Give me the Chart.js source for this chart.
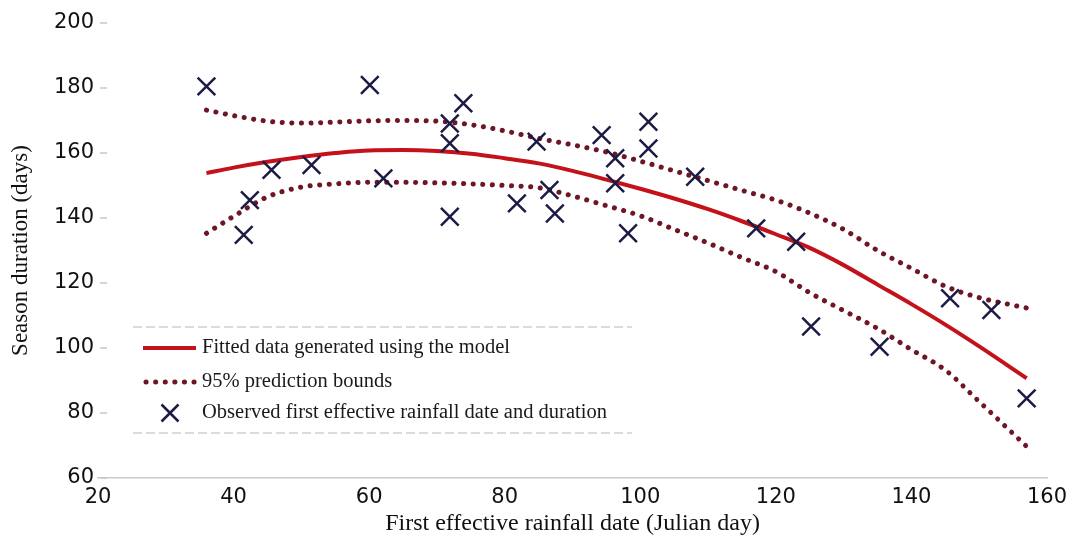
<!DOCTYPE html>
<html>
<head>
<meta charset="utf-8">
<script src="https://cdn.jsdelivr.net/npm/chart.js@4"></script>
<style>
  html, body { margin: 0; padding: 0; background: #ffffff; }
  #wrap { width: 1075px; height: 538px; position: relative; }
</style>
</head>
<body>
<div id="wrap"><canvas id="c"></canvas></div>
<script>
// Observed first effective rainfall date (Julian day) and season duration (days)
const obsX = [36, 41.5, 42.4, 45.6, 51.5, 60.1, 62.1, 71.9, 71.9, 71.9, 73.9, 81.8, 84.7, 86.6, 87.4,
              94.3, 96.3, 96.3, 98.2, 101.2, 101.2, 108.1, 117.1, 123.0, 125.2, 135.3, 145.7, 151.8, 157.0];
const obsY = [180.5, 134.8, 145.5, 154.8, 156.3, 180.9, 152.2, 169.1, 163.0, 140.4, 175.3, 144.5, 163.5, 148.6, 141.4,
              165.5, 158.4, 150.7, 135.3, 169.6, 161.4, 152.7, 136.8, 132.7, 106.6, 100.4, 115.3, 111.7, 84.5];

// Fitted model curve and 95% prediction bounds
const fitX   = [36, 40, 45, 50, 55, 60, 65, 70, 75, 80, 85, 90, 95, 100, 105, 110, 115, 120, 125, 130, 135, 140, 145, 150, 157];
const fitY   = [153.8, 155.5, 157.3, 158.8, 160.0, 160.8, 160.9, 160.6, 159.8, 158.4, 156.8, 154.5, 151.8, 149.0, 146.0,
                142.7, 139.0, 135.0, 130.8, 125.5, 119.5, 113.5, 107.2, 100.5, 90.7];
const upperY = [173.2, 171.5, 169.8, 169.2, 169.5, 169.9, 170.0, 169.8, 168.7, 166.8, 164.5, 162.5, 160.3, 157.5, 154.5,
                151.5, 148.5, 145.5, 141.5, 136.5, 130.0, 124.5, 119.0, 115.5, 112.3];
const lowerY = [135.3, 140.5, 146.5, 149.5, 150.5, 151.0, 151.0, 150.8, 150.5, 150.0, 149.3, 146.8, 143.8, 140.7, 136.5,
                132.3, 127.8, 123.5, 117.0, 111.5, 106.0, 99.5, 93.2, 83.5, 69.7];

const xTicks = [20, 40, 60, 80, 100, 120, 140, 160];
const yTicks = [60, 80, 100, 120, 140, 160, 180, 200];

const legendLabels = [
  'Fitted data generated using the model',
  '95% prediction bounds',
  'Observed first effective rainfall date and duration'
];
const xTitle = 'First effective rainfall date (Julian day)';
const yTitle = 'Season duration (days)';

const RED = '#c4121b';
const MAROON = '#6e1526';
const NAVY = '#1c1b45';

const pairs = (xs, ys) => xs.map((x, i) => ({ x: x, y: ys[i] }));

const innerTicks = {
  id: 'innerTicks',
  afterDatasetsDraw(chart) {
    const ctx = chart.ctx, y = chart.scales.y, a = chart.chartArea;
    ctx.save();
    ctx.strokeStyle = '#c8c8c8';
    ctx.lineWidth = 1.5;
    yTicks.forEach(v => {
      const py = y.getPixelForValue(v);
      ctx.beginPath();
      ctx.moveTo(a.left + 2, py);
      ctx.lineTo(a.left + 9, py);
      ctx.stroke();
    });
    ctx.restore();
  }
};

const boxLegend = {
  id: 'boxLegend',
  afterDraw(chart) {
    const ctx = chart.ctx;
    const left = 133, right = 632, top = 327, bottom = 433;
    const rows = [348, 382, 413];
    ctx.save();
    // faint dashed frame lines
    ctx.strokeStyle = '#cfcfcf';
    ctx.lineWidth = 1.5;
    ctx.setLineDash([9, 4]);
    [top, bottom].forEach(yy => {
      ctx.beginPath(); ctx.moveTo(left, yy); ctx.lineTo(right, yy); ctx.stroke();
    });
    ctx.setLineDash([]);
    // fitted line sample
    ctx.strokeStyle = RED; ctx.lineWidth = 4; ctx.lineCap = 'butt';
    ctx.beginPath(); ctx.moveTo(143, rows[0]); ctx.lineTo(196, rows[0]); ctx.stroke();
    // dotted sample
    ctx.strokeStyle = MAROON; ctx.lineWidth = 5; ctx.lineCap = 'round';
    ctx.setLineDash([0.1, 9.5]);
    ctx.beginPath(); ctx.moveTo(146, rows[1]); ctx.lineTo(196, rows[1]); ctx.stroke();
    ctx.setLineDash([]);
    // X marker sample
    ctx.strokeStyle = NAVY; ctx.lineWidth = 2.5; ctx.lineCap = 'butt';
    const cx = 170, cy = rows[2], h = 8.5;
    ctx.beginPath();
    ctx.moveTo(cx - h, cy - h); ctx.lineTo(cx + h, cy + h);
    ctx.moveTo(cx - h, cy + h); ctx.lineTo(cx + h, cy - h);
    ctx.stroke();
    // texts
    ctx.fillStyle = '#1a1a1a';
    ctx.font = '20.5px "Liberation Serif", "Times New Roman", serif';
    ctx.textBaseline = 'middle';
    ctx.textAlign = 'left';
    legendLabels.forEach((t, i) => ctx.fillText(t, 202, rows[i]));
    ctx.restore();
  }
};

new Chart(document.getElementById('c'), {
  type: 'scatter',
  data: {
    datasets: [
      {
        label: legendLabels[2],
        data: pairs(obsX, obsY),
        showLine: false,
        pointStyle: 'crossRot',
        pointRadius: 12.5,
        pointHoverRadius: 12.5,
        pointBorderWidth: 2.5,
        borderColor: NAVY,
        backgroundColor: NAVY
      },
      {
        label: legendLabels[0],
        data: pairs(fitX, fitY),
        showLine: true,
        pointRadius: 0,
        borderColor: RED,
        borderWidth: 4,
        cubicInterpolationMode: 'monotone'
      },
      {
        label: legendLabels[1],
        data: pairs(fitX, upperY),
        showLine: true,
        pointRadius: 0,
        borderColor: MAROON,
        borderWidth: 5,
        borderDash: [0.1, 9.5],
        borderCapStyle: 'round',
        cubicInterpolationMode: 'monotone'
      },
      {
        label: legendLabels[1] + ' (lower)',
        data: pairs(fitX, lowerY),
        showLine: true,
        pointRadius: 0,
        borderColor: MAROON,
        borderWidth: 5,
        borderDash: [0.1, 9.5],
        borderCapStyle: 'round',
        cubicInterpolationMode: 'monotone'
      }
    ]
  },
  options: {
    responsive: true,
    maintainAspectRatio: false,
    animation: false,
    layout: { padding: { top: 23, right: 28, left: 0, bottom: 0 } },
    plugins: {
      legend: { display: false },
      tooltip: { enabled: false }
    },
    scales: {
      x: {
        type: 'linear',
        min: 20, max: 160,
        afterBuildTicks: s => { s.ticks = xTicks.map(v => ({ value: v })); },
        afterFit: s => { s.height = 60; },
        grid: { display: true, drawOnChartArea: false, drawTicks: false },
        border: { display: true, color: '#cccccc', width: 1.5, dash: [10, 4] },
        ticks: {
          padding: 7,
          color: '#111111',
          font: { family: '"DejaVu Sans", "Liberation Sans", sans-serif', size: 21 }
        },
        title: {
          display: true,
          text: xTitle,
          color: '#111111',
          font: { family: '"Liberation Serif", "Times New Roman", serif', size: 24 },
          padding: { top: 0, bottom: 0 }
        }
      },
      y: {
        type: 'linear',
        min: 60, max: 200,
        afterBuildTicks: s => { s.ticks = yTicks.map(v => ({ value: v })); },
        afterFit: s => { s.width = 98; },
        grid: { display: true, drawOnChartArea: false, drawTicks: false },
        border: { display: false },
        ticks: {
          padding: 4,
          color: '#111111',
          font: { family: '"DejaVu Sans", "Liberation Sans", sans-serif', size: 21 }
        },
        title: {
          display: true,
          text: yTitle,
          color: '#111111',
          font: { family: '"Liberation Serif", "Times New Roman", serif', size: 23 },
          padding: { top: 7, bottom: 0 }
        }
      }
    }
  },
  plugins: [innerTicks, boxLegend]
});
</script>
</body>
</html>
